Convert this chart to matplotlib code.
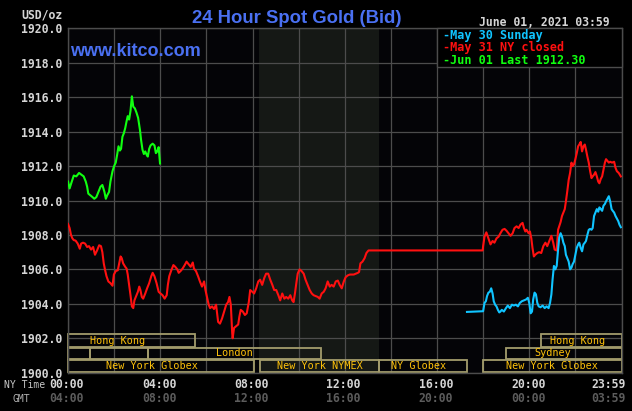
import matplotlib
matplotlib.use("Agg")
import matplotlib.pyplot as plt
from matplotlib.patches import Rectangle
import matplotlib.transforms as mtransforms

# ---------------- data ----------------
green_hours = [0.00,0.07,0.14,0.25,0.36,0.48,0.58,0.68,0.77,0.83,
               0.88,0.97,1.06,1.14,1.23,1.32,1.41,1.49,1.58,1.64,
               1.70,1.78,1.84,1.93,2.00,2.07,2.13,2.19,2.25,2.30,
               2.36,2.42,2.48,2.54,2.59,2.65,2.71,2.77,2.83,2.90,
               2.97,3.04,3.12,3.17,3.23,3.29,3.35,3.41,3.46,3.52,
               3.58,3.67,3.75,3.81,3.87,3.93,3.99]
green_values = [1911.10,1910.70,1911.00,1911.45,1911.40,1911.60,1911.50,1911.40,1911.10,1910.80,
                1910.40,1910.30,1910.20,1910.10,1910.20,1910.50,1910.80,1910.90,1910.50,1910.10,
                1910.30,1910.50,1911.10,1911.70,1912.00,1912.20,1912.65,1913.15,1912.90,1913.00,
                1913.70,1913.90,1914.20,1914.60,1914.90,1914.70,1915.20,1916.05,1915.45,1915.35,
                1915.10,1914.80,1914.10,1913.50,1912.95,1912.70,1912.85,1912.65,1912.55,1913.00,
                1913.20,1913.30,1913.20,1912.75,1912.85,1913.10,1912.15]

red_hours = [0.00,0.07,0.13,0.19,0.25,0.33,0.42,0.51,0.57,0.65,
             0.74,0.83,0.91,1.00,1.09,1.17,1.26,1.35,1.43,1.49,
             1.55,1.61,1.67,1.75,1.84,1.93,1.99,2.07,2.16,2.22,
             2.28,2.33,2.39,2.48,2.54,2.59,2.65,2.71,2.77,2.83,
             2.88,2.94,3.03,3.09,3.14,3.20,3.26,3.35,3.43,3.52,
             3.61,3.67,3.75,3.84,3.93,4.01,4.10,4.19,4.28,4.33,
             4.39,4.48,4.57,4.65,4.74,4.80,4.88,4.97,5.06,5.14,
             5.23,5.32,5.41,5.46,5.55,5.64,5.72,5.81,5.90,5.96,
             6.04,6.10,6.16,6.25,6.33,6.42,
             6.51,6.59,6.68,6.77,6.86,6.94,7.00,7.06,7.12,7.14,
             7.20,7.29,7.38,7.43,7.49,7.58,7.67,7.75,7.84,7.90,
             7.99,8.07,8.16,8.25,8.33,8.42,8.51,8.59,8.68,8.77,
             8.86,8.94,9.03,9.12,9.20,9.29,9.38,9.46,9.55,9.64,
             9.72,9.78,9.84,9.90,9.96,10.04,10.13,10.22,10.30,10.39,
             10.48,10.57,10.65,10.74,10.83,10.91,11.00,11.09,11.17,11.26,
             11.35,11.43,11.52,11.61,11.70,11.78,11.87,11.96,12.04,12.13,
             12.22,12.30,12.39,12.48,12.57,12.62,12.68,12.77,12.86,12.94,
             13.03,17.98,
             18.00,18.06,18.14,18.23,18.32,18.41,18.49,18.58,18.67,18.75,
             18.84,18.93,19.01,19.10,19.19,19.28,19.36,19.45,19.54,19.62,
             19.71,19.77,19.83,19.88,19.97,20.03,20.09,20.14,20.20,20.26,
             20.35,20.43,20.52,20.61,20.70,20.78,20.87,20.96,21.04,21.10,
             21.19,21.25,21.30,21.36,21.42,21.48,21.54,21.59,21.65,21.71,
             21.77,21.83,21.88,21.94,22.00,22.06,22.12,22.17,22.23,22.29,
             22.35,22.41,22.46,22.52,22.58,22.64,22.70,22.75,22.81,22.87,
             22.93,22.99,23.04,23.10,23.16,23.22,23.28,23.33,23.39,23.45,
             23.51,23.59,23.68,23.74,23.80,23.88,23.97]
red_values = [1908.64,1908.40,1908.00,1907.80,1907.70,1907.67,1907.50,1907.20,1907.50,1907.55,
              1907.50,1907.30,1907.35,1907.15,1907.30,1906.85,1907.10,1907.40,1907.35,1907.00,
              1906.35,1905.95,1905.60,1905.30,1905.20,1905.05,1905.70,1905.90,1905.95,1906.35,
              1906.75,1906.65,1906.35,1906.15,1906.05,1905.70,1905.10,1904.50,1903.85,1903.75,
              1904.20,1904.40,1904.70,1905.00,1904.80,1904.40,1904.30,1904.60,1904.90,1905.20,
              1905.60,1905.80,1905.60,1905.20,1904.70,1904.60,1904.50,1904.30,1904.50,1905.10,
              1905.60,1905.95,1906.25,1906.15,1906.00,1905.80,1905.90,1906.05,1906.25,1906.45,
              1906.30,1906.15,1906.40,1906.05,1905.90,1905.60,1905.30,1905.00,1905.30,1904.80,
              1904.30,1903.95,1903.75,1903.85,1903.70,1903.95,
              1902.95,1902.85,1903.15,1903.55,1903.95,1904.10,1904.40,1903.95,1902.30,1902.00,
              1902.60,1902.70,1902.80,1903.25,1903.65,1903.55,1903.35,1903.45,1904.10,1904.80,
              1904.70,1904.60,1904.90,1905.30,1905.40,1905.10,1905.50,1905.75,1905.75,1905.40,
              1905.10,1904.80,1904.80,1904.50,1904.20,1904.60,1904.30,1904.40,1904.30,1904.50,
              1904.20,1904.10,1904.60,1905.20,1905.75,1906.00,1905.90,1905.75,1905.40,1905.10,
              1904.80,1904.60,1904.50,1904.45,1904.40,1904.30,1904.60,1904.70,1904.90,1905.30,
              1905.00,1905.10,1905.00,1905.30,1905.35,1905.10,1904.90,1905.30,1905.55,1905.65,
              1905.70,1905.70,1905.70,1905.75,1905.80,1905.85,1906.35,1906.45,1906.65,1906.95,
              1907.10,1907.10,
              1907.35,1907.90,1908.15,1907.80,1907.45,1907.65,1907.55,1907.80,1907.90,1908.10,
              1908.30,1908.35,1908.25,1908.10,1907.95,1908.10,1908.40,1908.50,1908.40,1908.60,
              1908.70,1908.40,1908.20,1908.30,1908.10,1908.20,1907.80,1907.25,1906.75,1906.85,
              1906.95,1907.00,1906.95,1907.35,1907.55,1907.35,1907.65,1907.95,1907.55,1907.15,
              1907.10,1908.30,1908.50,1908.75,1909.10,1909.30,1909.50,1909.95,1910.55,1911.20,
              1911.60,1912.20,1912.00,1912.10,1912.40,1912.75,1913.15,1913.25,1913.40,1912.85,
              1913.15,1913.25,1912.95,1912.55,1912.20,1911.70,1911.30,1911.40,1911.50,1911.65,
              1911.40,1911.10,1911.00,1911.25,1911.40,1911.80,1912.20,1912.40,1912.30,1912.20,
              1912.25,1912.20,1912.25,1911.90,1911.70,1911.60,1911.40]

cyan_hours = [17.30,
              18.00,18.06,18.12,18.17,18.23,18.29,18.35,18.41,18.46,18.52,
              18.58,18.64,18.70,18.75,18.81,18.90,18.99,19.07,19.16,19.25,
              19.33,19.42,19.51,19.59,19.68,19.77,19.86,19.94,20.00,20.06,
              20.12,20.17,20.23,20.29,20.35,20.41,20.49,20.58,20.67,20.75,
              20.84,20.90,20.96,21.01,21.07,21.13,21.19,21.25,21.30,21.36,
              21.42,21.48,21.54,21.59,21.65,21.71,21.77,21.83,21.88,21.94,
              22.00,22.06,22.12,22.17,22.23,22.29,22.35,22.41,22.46,22.52,
              22.58,22.64,22.70,22.75,22.81,22.87,22.93,22.99,23.04,23.10,
              23.16,23.22,23.28,23.33,23.39,23.45,23.51,23.57,23.62,23.68,
              23.74,23.80,23.86,23.91,23.97]
cyan_values = [1903.53,
               1903.57,1904.05,1904.15,1904.45,1904.65,1904.70,1904.90,1904.60,1904.15,1903.95,
               1903.85,1903.65,1903.50,1903.55,1903.65,1903.55,1903.75,1903.90,1903.75,1903.95,
               1903.90,1903.95,1903.85,1904.05,1904.15,1904.20,1904.25,1904.35,1904.05,1903.45,
               1903.55,1904.25,1904.65,1904.55,1904.05,1903.85,1903.80,1903.90,1903.75,1903.85,
               1903.75,1904.05,1904.55,1905.40,1906.20,1906.00,1906.20,1907.15,1907.85,1908.10,
               1907.90,1907.55,1907.35,1906.85,1906.65,1906.45,1906.00,1906.10,1906.30,1906.45,
               1906.85,1907.25,1907.45,1907.55,1907.25,1907.05,1907.45,1907.55,1907.65,1908.00,
               1908.30,1908.35,1908.30,1908.40,1909.10,1909.30,1909.50,1909.35,1909.60,1909.50,
               1909.40,1909.70,1909.80,1909.95,1910.10,1910.25,1909.95,1909.50,1909.40,1909.30,
               1909.10,1908.95,1908.80,1908.60,1908.45]

legend_labels = ["-May 30 Sunday", "-May 31 NY closed", "-Jun 01 Last 1912.30"]
y_ticks = [1900, 1902, 1904, 1906, 1908, 1910, 1912, 1914, 1916, 1918, 1920]
x_label_hours = [0, 4, 8, 12, 16, 20]
ny_labels = ["00:00", "04:00", "08:00", "12:00", "16:00", "20:00"]
gmt_labels = ["04:00", "08:00", "12:00", "16:00", "20:00", "00:00"]
end_ny_label = "23:59"
end_gmt_label = "03:59"

# market sessions: (name, row, start hour, end hour, label hour)
session_names = ["Hong Kong", "", "", "London", "New York Globex", "New York NYMEX",
                 "NY Globex", "New York Globex", "Sydney", "Hong Kong"]
session_rows = [0, 1, 1, 1, 2, 2, 2, 2, 1, 0]
session_start = [0.0, 0.0, 0.96, 3.48, 0.0, 8.33, 13.5, 18.0, 19.0, 20.5]
session_end = [5.5, 0.96, 3.48, 10.97, 8.05, 13.5, 17.32, 24.0, 24.0, 24.0]
session_label_at = [2.15, 0, 0, 7.2, 3.65, 10.93, 15.22, 21.0, 21.0, 22.1]
nymex_shade = (8.28, 13.5)

# ---------------- style ----------------
BG = "#000000"
PLOT_BG = "#040407"
GRID = "#4c4c4c"
TXT = "#d6d6d6"
GMT_C = "#5c5c5c"
BLUE = "#4a70f2"
RED = "#ff1010"
GREEN = "#10ff10"
CYAN = "#10c4ff"
BOX = "#a39c6c"
AMBER = "#ffc20a"
MONO = "DejaVu Sans Mono"

W, H = 632, 411
fig = plt.figure(figsize=(W / 100, H / 100), dpi=100, facecolor=BG)
L, R, T, B = 68, 621.5, 28.3, 372.7
ax = fig.add_axes([L / W, 1 - B / H, (R - L) / W, (B - T) / H])
ax.set_facecolor(PLOT_BG)
ax.set_xlim(0, 24)
ax.set_ylim(1900, 1920)

def fx(x):
    return x / W

def fy(y):
    return 1 - y / H

# shading
ax.axvspan(nymex_shade[0], nymex_shade[1], color="#151815", zorder=0.3, lw=0)

# grid
ax.set_xticks(range(0, 25, 2))
ax.set_yticks(y_ticks)
ax.grid(True, color=GRID, lw=0.9, zorder=0.5)
ax.set_axisbelow(True)
for s in ax.spines.values():
    s.set_color(GRID)
    s.set_linewidth(1.0)
ax.tick_params(length=0, labelbottom=False, colors=TXT, pad=3.8)
ax.set_yticklabels([f"{v:.1f}" for v in y_ticks], fontfamily=MONO,
                   fontweight="bold", fontsize=8.3, color=TXT)

# sessions
row_bounds = [(1901.50, 1902.23), (1900.78, 1901.46), (1900.03, 1900.72)]
for name, row, s0, s1, lab in zip(session_names, session_rows, session_start,
                                  session_end, session_label_at):
    y0, y1 = row_bounds[row]
    ax.add_patch(Rectangle((s0, y0), s1 - s0, y1 - y0, fill=False, ec=BOX,
                           lw=1.3, zorder=2, clip_on=False))
    if name:
        ax.text(lab, (y0 + y1) / 2, name, ha="center", va="center",
                fontfamily=MONO, fontsize=7.3, color=AMBER, zorder=3)

# lines
ax.plot(red_hours, red_values, color=RED, lw=1.5, zorder=4)
ax.plot(cyan_hours, cyan_values, color=CYAN, lw=1.5, zorder=4)
ax.plot(green_hours, green_values, color=GREEN, lw=1.5, zorder=4)

# legend box
leg = Rectangle((fx(437), fy(66.7)), fx(621.5) - fx(437), fy(28.3) - fy(66.7),
                transform=fig.transFigure, fc="#000000", ec=GRID, lw=1.0,
                zorder=6)
fig.add_artist(leg)
for lab, col, yy in zip(legend_labels, [CYAN, RED, GREEN], [35.3, 47.5, 60.2]):
    fig.text(fx(443), fy(yy), lab, color=col, fontfamily=MONO,
             fontweight="bold", fontsize=8.5, ha="left", va="center", zorder=7)

# title texts
fig.text(fx(297), fy(22.7), "24 Hour Spot Gold (Bid)", color=BLUE,
         fontfamily="Liberation Sans", fontweight="bold", fontsize=13.3,
         ha="center", va="baseline")
fig.text(fx(70), fy(56), "www.kitco.com", color=BLUE,
         fontfamily="Liberation Sans", fontweight="bold", fontsize=13.0,
         ha="left", va="baseline")
fig.text(fx(63), fy(18), "USD/oz", color=TXT, fontfamily=MONO,
         fontweight="bold", fontsize=8.3, ha="right", va="baseline")
fig.text(fx(610), fy(26), "June 01, 2021 03:59", color=TXT, fontfamily=MONO,
         fontweight="bold", fontsize=8.3, ha="right", va="baseline")

# x labels
trans = mtransforms.blended_transform_factory(ax.transData, fig.transFigure)
for h, ny, gmt in zip(x_label_hours, ny_labels, gmt_labels):
    ax.text(h - 0.05, fy(384), ny, transform=trans, ha="center", va="center",
            fontfamily=MONO, fontweight="bold", fontsize=8.3, color=TXT)
    ax.text(h - 0.05, fy(398), gmt, transform=trans, ha="center", va="center",
            fontfamily=MONO, fontweight="bold", fontsize=8.3, color=GMT_C)
fig.text(fx(626), fy(384), end_ny_label, ha="right", va="center",
         fontfamily=MONO, fontweight="bold", fontsize=8.3, color=TXT)
fig.text(fx(626), fy(398), end_gmt_label, ha="right", va="center",
         fontfamily=MONO, fontweight="bold", fontsize=8.3, color=GMT_C)
fig.text(fx(4.5), fy(388), "NY Time", ha="left", va="baseline",
         fontfamily=MONO, fontsize=7.0, color="#c8c8c8")
fig.text(fx(12.7), fy(401.5), "GMT", ha="left", va="baseline",
         fontfamily=MONO, fontsize=7.0, color="#b4b4b4")

fig.savefig("out.png", dpi=100, facecolor=BG)
